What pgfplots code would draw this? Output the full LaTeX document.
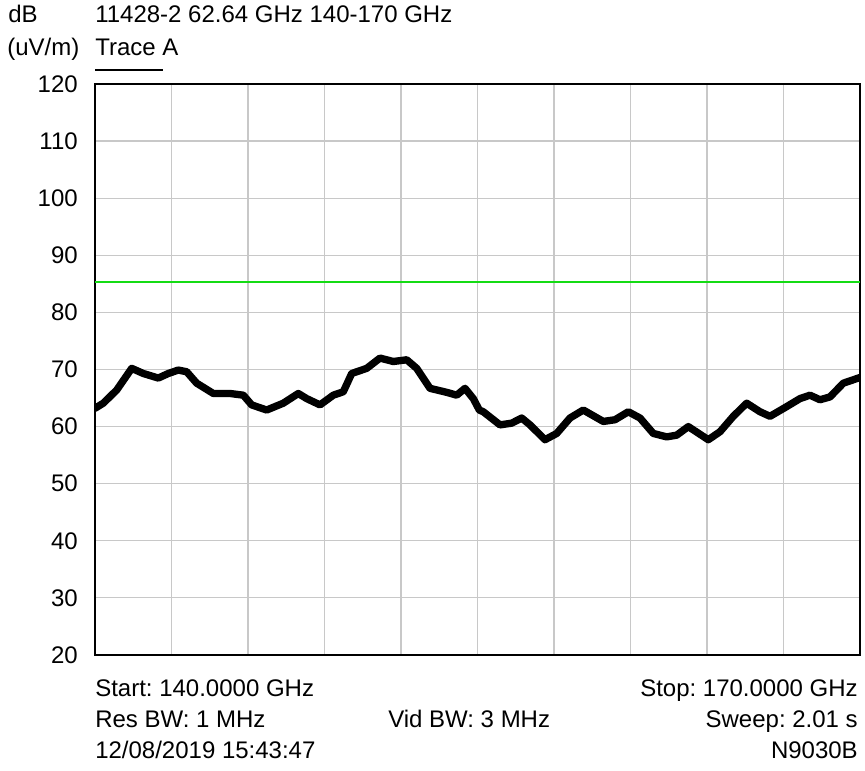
\documentclass[border=0pt]{standalone}
\usepackage{fontspec}
\setmainfont{Liberation Sans}
\usepackage{pgfplots}
\pgfplotsset{compat=1.18}
\definecolor{limitgreen}{RGB}{20,220,20}
\definecolor{gridgray}{RGB}{200,200,200}
\begin{document}
\frenchspacing
\fontsize{18}{21.6}\selectfont
\begin{tikzpicture}
\useasboundingbox (0,0) rectangle (648.75pt,578.25pt);
\begin{axis}[
  scale only axis,
  width=573.75pt, height=428.25pt,
  at={(71.25pt,87pt)}, anchor=south west,
  xmin=140, xmax=170, ymin=20, ymax=120,
  xtick={140,143,...,170}, xticklabels={},
  ytick={20,30,...,120},
  grid=major,
  major grid style={color=gridgray, line width=0.9pt},
  major tick length=0pt,
  axis line style={line width=1.2pt, black},
  /pgf/number format/assume math mode=true,
  yticklabel style={font=\fontsize{18}{21.6}\selectfont, inner sep=0pt, xshift=-12.75pt},
]
\addplot[limitgreen, line width=1pt] coordinates {(140,85.3) (170,85.3)};
\addplot[black, line width=5.5pt, line join=round, line cap=round] coordinates {
(140.000,63.2) (140.325,64.1) (140.851,66.4) (141.439,70.2) (141.894,69.3)
(142.482,68.5) (142.875,69.3) (143.267,69.9) (143.596,69.6) (143.988,67.6)
(144.639,65.8) (145.294,65.8) (145.816,65.5) (146.145,63.8) (146.733,62.9)
(147.384,64.1) (147.973,65.8) (148.302,64.9) (148.824,63.8) (149.345,65.5)
(149.737,66.1) (150.067,69.3) (150.655,70.2) (151.176,72.0) (151.698,71.4)
(152.224,71.7) (152.616,70.2) (153.137,66.7) (153.792,66.0) (154.184,65.5)
(154.510,66.7) (154.835,64.9) (155.071,62.9) (155.227,62.6) (155.882,60.3)
(156.341,60.6) (156.733,61.5) (157.059,60.3) (157.647,57.7) (158.106,58.8)
(158.627,61.5) (159.149,62.9) (159.933,60.9) (160.392,61.2) (160.914,62.6)
(161.373,61.5) (161.894,58.8) (162.420,58.2) (162.812,58.5) (163.267,60.0)
(164.051,57.7) (164.510,59.1) (165.031,61.8) (165.557,64.1) (166.078,62.6)
(166.471,61.8) (167.125,63.5) (167.647,64.9) (168.039,65.5) (168.431,64.7)
(168.824,65.2) (169.345,67.6) (170.000,68.6)
};
\end{axis}
\node[anchor=base west, inner sep=0pt] at (6pt,561pt) {dB};
\node[anchor=base west, inner sep=0pt] at (71.25pt,561pt) {11428-2 62.64 GHz 140-170 GHz};
\node[anchor=base west, inner sep=0pt] at (5.25pt,536.5pt) {(uV/m)};
\node[anchor=base west, inner sep=0pt] at (71.25pt,536.5pt) {Trace A};
\draw[line width=0.9pt] (71.25pt,525.75pt) -- (122.25pt,525.75pt);
\node[anchor=base west, inner sep=0pt] at (71.25pt,55.9pt) {Start: 140.0000 GHz};
\node[anchor=base east, inner sep=0pt] at (643.5pt,55.9pt) {Stop: 170.0000 GHz};
\node[anchor=base west, inner sep=0pt] at (71.25pt,32.6pt) {Res BW: 1 MHz};
\node[anchor=base west, inner sep=0pt] at (291pt,32.6pt) {Vid BW: 3 MHz};
\node[anchor=base east, inner sep=0pt] at (643.5pt,32.6pt) {Sweep: 2.01 s};
\node[anchor=base west, inner sep=0pt] at (71.25pt,9.4pt) {12/08/2019 15:43:47};
\node[anchor=base east, inner sep=0pt] at (643.5pt,9.4pt) {N9030B};
\end{tikzpicture}
\end{document}
